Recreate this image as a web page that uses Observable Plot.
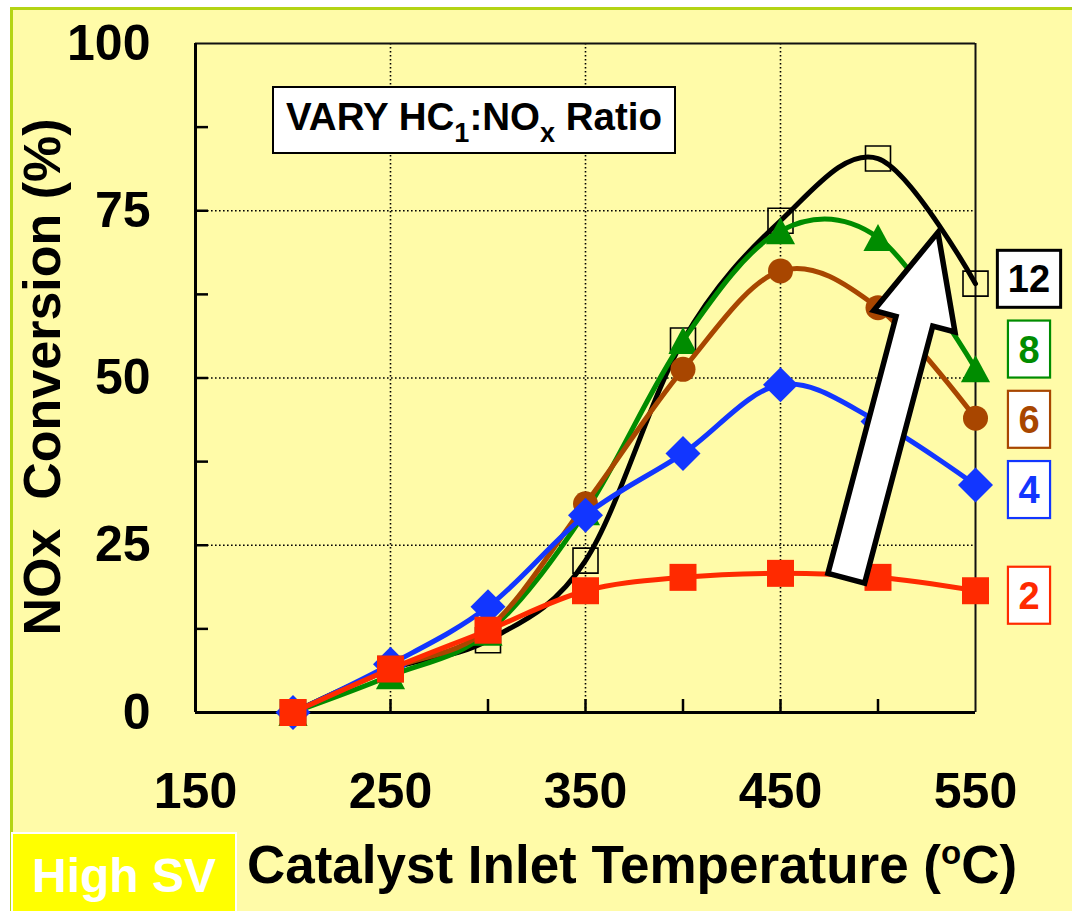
<!DOCTYPE html>
<html>
<head>
<meta charset="utf-8">
<script src="https://cdn.jsdelivr.net/npm/d3@7"></script>
<script src="https://cdn.jsdelivr.net/npm/@observablehq/plot@0.6"></script>
<style>
  body { margin: 0; background: #fff; }
  #wrap { position: relative; width: 1072px; height: 911px; overflow: hidden; background: #fff; }
  #panel { position: absolute; left: 10px; top: 7px; right: 0; bottom: 0; background: #FFFBA8;
           border-left: 3px solid #B4D414; border-top: 3px solid #B4D414; }
  #chart { position: absolute; left: 0; top: 0; }
</style>
</head>
<body>
<div id="wrap"><div id="panel"></div><div id="chart"></div></div>
<script>
// Catalyst inlet temperature (°C) at each measurement
const temperatures = [200, 250, 300, 350, 400, 450, 500, 550];
// HC1:NOx ratios, one curve each
const ratios = [12, 8, 6, 4, 2];
// NOx conversion (%) per ratio
const conv12 = [0, 6.5, 10.8, 22.7, 55.6, 73.5, 82.8, 64.1];
const conv8  = [0, 5.5, 12.0, 30.0, 55.6, 72.0, 71.0, 51.4];
const conv6  = [0, 6.5, 12.5, 31.2, 51.3, 66.0, 60.5, 44.0];
const conv4  = [0, 7.2, 15.8, 29.5, 38.7, 49.0, 43.5, 34.0];
const conv2  = [0, 6.5, 12.3, 18.2, 20.2, 20.8, 20.2, 18.2];
// axis ticks
const xTicks = [150, 250, 350, 450, 550];
const yTicks = [0, 25, 50, 75, 100];
const xMinorTicks = [200, 250, 300, 350, 400, 450, 500];
const yMinorTicks = [12.5, 25, 37.5, 50, 62.5, 75, 87.5];
const xGrid = [250, 350, 450];
const yGrid = [25, 50, 75];
// texts
const boxTitle = ["VARY HC", "1", ":NO", "x", " Ratio"];
const yTitle = "NOx\u00a0 Conversion (%)";
const xTitle = ["Catalyst Inlet Temperature (", "o", "C)"];
const badge = "High SV";
// trend arrow: from (temperature, conversion) to (temperature, conversion)
const arrowFrom = [484, 20.0];
const arrowTo = [531, 71.7];

const seriesValues = [conv12, conv8, conv6, conv4, conv2];
const rows = ratios.flatMap((r, i) =>
  temperatures.map((t, j) => ({ratio: r, temp: t, conv: seriesValues[i][j]})));

const FONT = "'Liberation Sans', Arial, Helvetica, sans-serif";

// marker shapes (size = π r²)
const half = (size) => Math.sqrt(size / Math.PI);
const squareSym = {draw(c, s) { const h = half(s); c.moveTo(-h, -h); c.lineTo(h, -h); c.lineTo(h, h); c.lineTo(-h, h); c.closePath(); }};
const diamondSym = {draw(c, s) { const h = half(s); c.moveTo(0, -h); c.lineTo(h, 0); c.lineTo(0, h); c.lineTo(-h, 0); c.closePath(); }};
const triangleSym = {draw(c, s) { const h = half(s); c.moveTo(0, -h); c.lineTo(h * 1.08, h); c.lineTo(-h * 1.08, h); c.closePath(); }};

const styles = {
  12: {color: "#000000", symbol: squareSym, r: 12.5, open: true},
  8:  {color: "#008C00", symbol: triangleSym, r: 13.5},
  6:  {color: "#A84600", symbol: "circle", r: 12.5},
  4:  {color: "#1236FF", symbol: diamondSym, r: 17.5},
  2:  {color: "#FF2A00", symbol: squareSym, r: 13.5}
};

function seriesMarks(ratio) {
  const st = styles[ratio];
  const data = rows.filter(d => d.ratio === ratio);
  return [
    Plot.line(data, {x: "temp", y: "conv", stroke: st.color, strokeWidth: 5,
                     curve: "cardinal", tension: 0}),
    Plot.dot(data, st.open
      ? {x: "temp", y: "conv", symbol: st.symbol, r: st.r, fill: "none", stroke: st.color, strokeWidth: 1.6}
      : {x: "temp", y: "conv", symbol: st.symbol, r: st.r, fill: st.color, stroke: "none"})
  ];
}

const svgNS = "http://www.w3.org/2000/svg";
function el(name, attrs, parent) {
  const e = document.createElementNS(svgNS, name);
  for (const k in attrs) e.setAttribute(k, attrs[k]);
  if (parent) parent.appendChild(e);
  return e;
}
// text with alternating normal / shifted runs
function richText(parent, parts, attrs, shift, subSize) {
  const t = el("text", attrs, parent);
  parts.forEach((p, i) => {
    const sp = el("tspan", {}, t);
    if (i % 2 === 1) { sp.setAttribute("dy", shift); sp.setAttribute("font-size", subSize); }
    else if (i > 0) sp.setAttribute("dy", -shift);
    sp.textContent = p;
  });
  return t;
}

// end-of-curve ratio labels, spread apart so the boxes do not collide
function ratioLabels(index, scales, values, dims) {
  const g = el("g", {});
  const right = dims.width - dims.marginRight;
  const ends = ratios.map((r, i) => ({r, v: seriesValues[i][seriesValues[i].length - 1]}))
    .sort((a, b) => a.v - b.v);
  let prev = -Infinity;
  for (const e of ends) { e.pos = Math.max(e.v, prev + 10.5); prev = e.pos; }
  for (const e of ends) {
    const st = styles[e.r];
    const cy = scales.y(e.pos) + 5;
    const cx = right + 54;
    const txt = String(e.r);
    const w = txt.length * 0.556 * 38 + 21;
    el("rect", {x: cx - w / 2, y: cy - 28.5, width: w, height: 57, fill: "#fff",
                stroke: st.color, "stroke-width": e.r === 12 ? 3 : 2.2}, g);
    const t = el("text", {x: cx, y: cy + 13.5, "text-anchor": "middle", "font-family": FONT,
                          "font-weight": "bold", "font-size": 38, fill: st.color}, g);
    t.textContent = txt;
  }
  return g;
}

function titleBox(index, scales, values, dims) {
  const g = el("g", {});
  const x = dims.marginLeft + 78, y = dims.marginTop + 44, w = 402, h = 66;
  el("rect", {x, y, width: w, height: h, fill: "#fff", stroke: "#000", "stroke-width": 2}, g);
  richText(g, boxTitle, {x: x + w / 2, y: y + 43, "text-anchor": "middle", "font-family": FONT,
                         "font-weight": "bold", "font-size": 38.5, fill: "#000"}, 12, 27);
  return g;
}

function bottomTexts(index, scales, values, dims) {
  const g = el("g", {});
  const H = dims.height;
  el("rect", {x: 12, y: H - 78, width: 224, height: 80, fill: "#FFFF00", stroke: "#fff", "stroke-width": 2}, g);
  const b = el("text", {x: 124, y: H - 19, "text-anchor": "middle", "font-family": FONT,
                        "font-weight": "bold", "font-size": 48, fill: "#fff"}, g);
  b.textContent = badge;
  richText(g, xTitle, {x: 632, y: H - 28, "text-anchor": "middle", "font-family": FONT,
                       "font-weight": "bold", "font-size": 53, fill: "#000"}, -19, 33);
  return g;
}

function trendArrow(index, scales) {
  const g = el("g", {});
  const x0 = scales.x(arrowFrom[0]), y0 = scales.y(arrowFrom[1]);
  const x1 = scales.x(arrowTo[0]), y1 = scales.y(arrowTo[1]);
  const L = Math.hypot(x1 - x0, y1 - y0);
  const ux = (x1 - x0) / L, uy = (y1 - y0) / L;
  const px = -uy, py = ux;
  const headLen = 92, shaft = 19, head = 42;
  const bx = x1 - ux * headLen, by = y1 - uy * headLen;
  const pts = [
    [x0 + px * shaft, y0 + py * shaft],
    [bx + px * shaft, by + py * shaft],
    [bx + px * head, by + py * head],
    [x1, y1],
    [bx - px * head, by - py * head],
    [bx - px * shaft, by - py * shaft],
    [x0 - px * shaft, y0 - py * shaft]
  ];
  el("polygon", {points: pts.map(p => p.join(",")).join(" "), fill: "#fff", stroke: "#000",
                 "stroke-width": 5.5, "stroke-linejoin": "miter", "stroke-miterlimit": 10}, g);
  return g;
}

const W = 1072, H = 911;
const frameW = W - 195 - 97, frameH = H - 43 - 199;

const chart = Plot.plot({
  width: W, height: H,
  marginLeft: 195, marginRight: 97, marginTop: 43, marginBottom: 199,
  x: {domain: [150, 550]},
  y: {domain: [0, 100]},
  style: {background: "transparent", fontFamily: FONT, overflow: "visible", color: "#000"},
  marks: [
    // dotted grid
    Plot.ruleY(yGrid, {y: d => d, stroke: "#000", strokeWidth: 1.6, strokeDasharray: "1.6,2.4"}),
    Plot.ruleX(xGrid, {x: d => d, stroke: "#000", strokeWidth: 1.6, strokeDasharray: "1.6,2.4"}),
    // frame
    Plot.ruleY([100], {stroke: "#111", strokeWidth: 2}),
    Plot.ruleX([550], {stroke: "#111", strokeWidth: 2}),
    Plot.ruleX([150], {stroke: "#000", strokeWidth: 3}),
    Plot.ruleY([0], {stroke: "#000", strokeWidth: 3}),
    // inward ticks
    Plot.tickX(xMinorTicks, {x: d => d, stroke: "#000", strokeWidth: 2.5, insetTop: frameH - 13}),
    Plot.tickY(yMinorTicks, {y: d => d, stroke: "#000", strokeWidth: 2.5, insetRight: frameW - 13}),
    // tick labels
    Plot.axisY({ticks: yTicks, tickSize: 0, tickPadding: 45, fontSize: 50, fontWeight: "bold", label: null}),
    Plot.axisX({ticks: xTicks, tickSize: 0, tickPadding: 60, fontSize: 50, fontWeight: "bold", label: null}),
    // y title
    Plot.text([yTitle], {text: d => d, frameAnchor: "left", textAnchor: "middle", lineAnchor: "middle",
                         rotate: -90, dx: -152, dy: -1,
                         fontSize: 52, fontWeight: "bold", fill: "#000"}),
    titleBox,
    // curves
    ...seriesMarks(12),
    ...seriesMarks(8),
    ...seriesMarks(6),
    ...seriesMarks(4),
    ...seriesMarks(2),
    trendArrow,
    ratioLabels,
    bottomTexts
  ]
});

document.getElementById("chart").appendChild(chart);
</script>
</body>
</html>
